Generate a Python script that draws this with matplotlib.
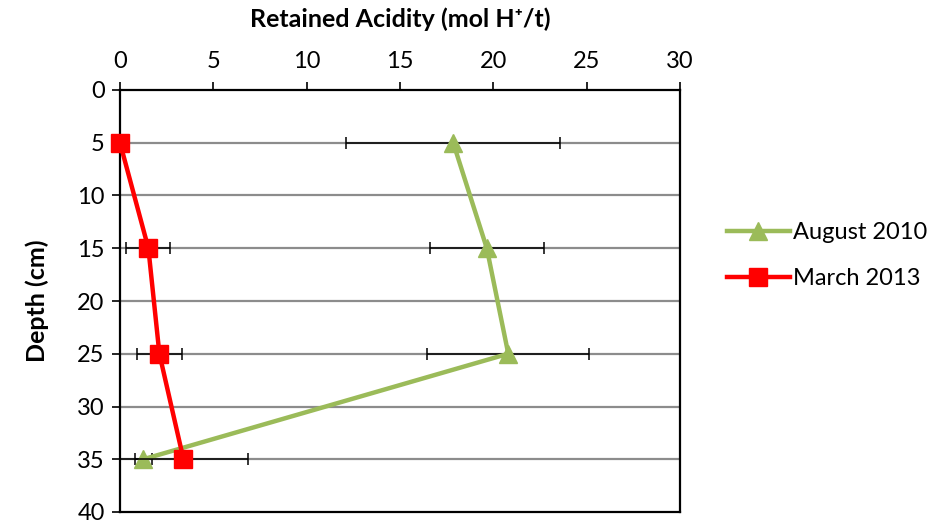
import matplotlib
matplotlib.use("Agg")
import matplotlib.pyplot as plt

plt.rcParams['font.family'] = ['Lato', 'DejaVu Sans']

depth = [5, 15, 25, 35]
aug_2010 = [17.85, 19.65, 20.8, 1.25]
aug_2010_err = [5.73, 3.05, 4.33, 0.45]
mar_2013 = [0.0, 1.52, 2.11, 3.4]
mar_2013_err = [0.0, 1.18, 1.2, 3.45]

x_ticks = [0, 5, 10, 15, 20, 25, 30]
y_ticks = [0, 5, 10, 15, 20, 25, 30, 35, 40]

green = '#9BBB59'
red = '#FF0000'

fig = plt.figure(figsize=(9.31, 5.22), dpi=100)
ax = fig.add_axes([120 / 931, 1 - 512 / 522, 560 / 931, 422 / 522])

for y in y_ticks[1:-1]:
    ax.axhline(y, color='#8C8C8C', lw=1.6, zorder=1)

ax.errorbar(aug_2010, depth, xerr=aug_2010_err, fmt='none', ecolor='black',
            elinewidth=1.1, capsize=4, capthick=1.1, zorder=2)
ax.plot(aug_2010, depth, color=green, lw=3.2, marker='^', markersize=13,
        label='August 2010', zorder=3)
ax.errorbar(mar_2013, depth, xerr=mar_2013_err, fmt='none', ecolor='black',
            elinewidth=1.1, capsize=4, capthick=1.1, zorder=4)
ax.plot(mar_2013, depth, color=red, lw=3.2, marker='s', markersize=13,
        label='March 2013', zorder=5, clip_on=False)

ax.set_xlim(0, 30)
ax.set_ylim(40, 0)
ax.set_xticks(x_ticks)
ax.set_yticks(y_ticks)
ax.xaxis.tick_top()
ax.xaxis.set_label_position('top')
ax.tick_params(axis='both', direction='out', length=6, width=1.2,
               labelsize=17, pad=5)
ax.tick_params(axis='x', pad=7)
for s in ax.spines.values():
    s.set_linewidth(1.6)
    s.set_color('black')

ax.set_xlabel('Retained Acidity (mol H\u207A/t)', fontsize=18, fontweight='bold',
              labelpad=17)
ax.set_ylabel('Depth (cm)', fontsize=18, fontweight='bold', labelpad=20)

leg = ax.legend(loc='center left', bbox_to_anchor=(1.084, 0.608), frameon=False,
                fontsize=17, handlelength=2.65, handletextpad=0.15,
                labelspacing=1.05, borderaxespad=0, borderpad=0)

fig.savefig('out.png', dpi=100)
